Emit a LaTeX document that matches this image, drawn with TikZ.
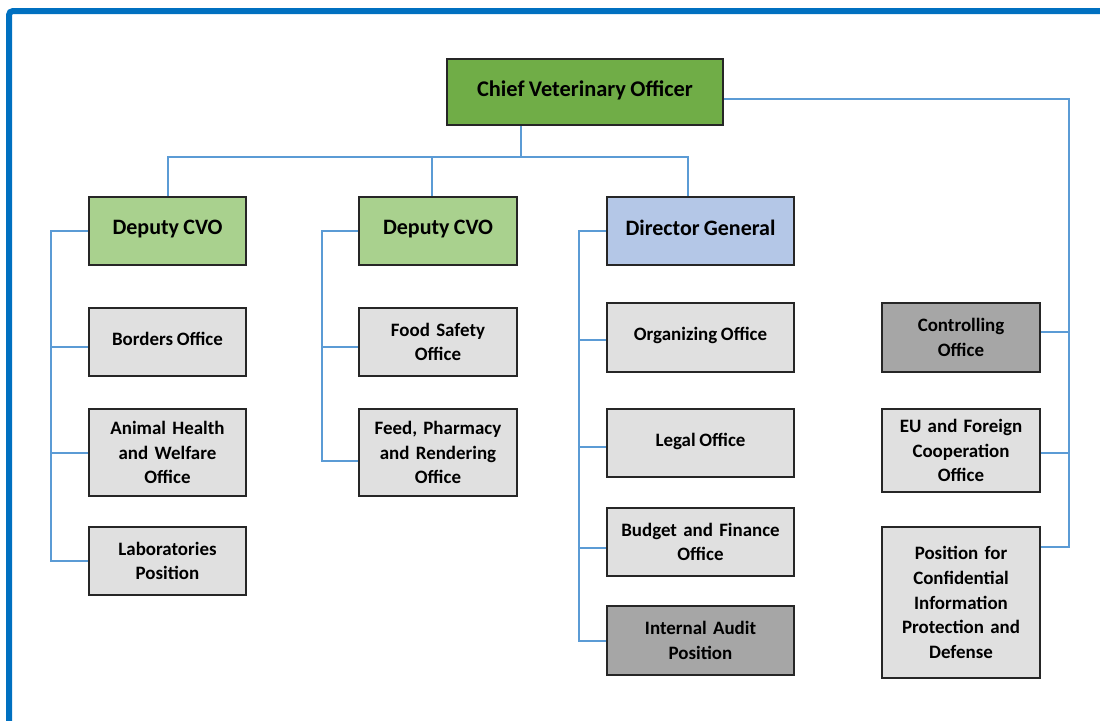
\documentclass[tikz,border=0pt]{standalone}
\usepackage{fontspec}
\setmainfont{Carlito}[WordSpace=0.85]
\usepackage{tikz}

\definecolor{frameblue}{RGB}{0,112,192}
\definecolor{linkblue}{RGB}{91,155,213}
\definecolor{chiefgreen}{RGB}{112,173,71}
\definecolor{deputygreen}{RGB}{169,209,142}
\definecolor{dirblue}{RGB}{180,199,231}
\definecolor{officegray}{RGB}{224,224,224}
\definecolor{darkgray}{RGB}{166,166,166}
\definecolor{boxline}{RGB}{38,38,38}

\tikzset{
  box/.style={draw=boxline, line width=1.5pt, align=center, inner sep=0pt,
    font=\bfseries\fontsize{14.2}{18.5}\selectfont, text=black},
  office/.style={box, fill=officegray},
  darkoffice/.style={box, fill=darkgray},
  head/.style={box, font=\bfseries\fontsize{16.5}{20}\selectfont, text depth=0.5em},
  lift/.style={text depth=0.5em},
  link/.style={draw=linkblue, line width=1.5pt},
}

\begin{document}
\begin{tikzpicture}[x=0.75pt,y=0.75pt,yscale=-1,xscale=1]
\useasboundingbox (0,0) rectangle (1100,721);

%Frame
\draw [frameblue, line width=4.5pt, rounded corners=3pt] (9,725) -- (9,11) -- (1104,11);

%Top row
\node [head, fill=chiefgreen, minimum width=207pt, minimum height=49.5pt, font=\bfseries\fontsize{16.8}{20}\selectfont] (chief) at (585,92) {Chief Veterinary Officer};
\node [head, fill=deputygreen, minimum width=117.75pt, minimum height=51pt] (dep1) at (167.5,231) {Deputy CVO};
\node [head, fill=deputygreen, minimum width=118.5pt, minimum height=51pt] (dep2) at (438,231) {Deputy CVO};
\node [head, fill=dirblue, minimum width=140.25pt, minimum height=51pt] (dg) at (700.5,231) {Director General};

%First Deputy CVO
\node [office, lift, minimum width=117.75pt, minimum height=51pt] (bord) at (167.5,342) {Borders Office};
\node [office, text width=112pt, minimum width=117.75pt, minimum height=65.25pt] (anim) at (167.5,452.5) {Animal Health\\and Welfare\\Office};
\node [office, text width=112pt, minimum width=117.75pt, minimum height=51pt] (lab) at (167.5,561) {Laboratories\\Position};

%Second Deputy CVO
\node [office, text width=112pt, minimum width=118.5pt, minimum height=51pt] (food) at (438,342) {Food Safety\\Office};
\node [office, text width=112pt, minimum width=118.5pt, minimum height=65.25pt] (feed) at (438,452.5) {Feed, Pharmacy\\and Rendering\\Office};

%Director General
\node [office, lift, minimum width=140.25pt, minimum height=51.75pt] (org) at (700.5,337.5) {Organizing Office};
\node [office, lift, minimum width=140.25pt, minimum height=51pt] (legal) at (700.5,443) {Legal Office};
\node [office, text width=134pt, minimum width=140.25pt, minimum height=51pt] (budget) at (700.5,542) {Budget and Finance\\Office};
\node [darkoffice, text width=134pt, minimum width=140.25pt, minimum height=51.75pt] (audit) at (700.5,640.5) {Internal Audit\\Position};

%Right column
\node [darkoffice, text width=112pt, minimum width=118.5pt, minimum height=51.75pt] (ctrl) at (961,337.5) {Controlling\\Office};
\node [office, text width=112pt, minimum width=118.5pt, minimum height=62.25pt] (eu) at (961,450.5) {EU and Foreign\\Cooperation\\Office};
\node [office, text width=112pt, minimum width=118.5pt, minimum height=113.25pt] (pos) at (961,602.5) {Position for\\Confidential\\Information\\Protection and\\Defense};

%Bus under the chief
\coordinate (bus) at (521,157);
\draw [link] (chief.south -| bus) -- (bus);
\draw [link] (dep1.north) |- (bus) -| ([xshift=-9.4pt]dg.north);
\draw [link] ([xshift=-4.5pt]dep2.north) -- ([xshift=-4.5pt]dep2.north |- bus);

%Right spine
\coordinate (chiefr) at ([yshift=5.25pt]chief.east);
\coordinate (posb) at ([yshift=15.75pt]pos.north east);
\coordinate (ctrlr) at ([yshift=-4pt]ctrl.east);
\coordinate (eur) at ([yshift=2pt]eu.east);
\coordinate (rsp) at ([xshift=21pt]posb);
\draw [link] (chiefr) -| (rsp) -- (posb);
\draw [link] (ctrlr) -- (ctrlr -| rsp);
\draw [link] (eur) -- (eur -| rsp);

%Left spines
\coordinate (s1) at (51,233);
\coordinate (bordl) at ([yshift=3.75pt]bord.west);
\draw [link] (dep1.west) -| (s1 |- lab.west) -- (lab.west);
\draw [link] (bordl -| s1) -- (bordl);
\draw [link] (s1 |- anim.west) -- (anim.west);

\coordinate (s2) at (322,233);
\coordinate (foodl) at ([yshift=3.75pt]food.west);
\coordinate (feedl) at ([yshift=6.4pt]feed.west);
\draw [link] (dep2.west) -| (feedl -| s2) -- (feedl);
\draw [link] (foodl -| s2) -- (foodl);

\coordinate (s3) at (579,233);
\coordinate (orgl) at ([yshift=1.9pt]org.west);
\coordinate (legall) at ([yshift=3pt]legal.west);
\coordinate (budgetl) at ([yshift=4.5pt]budget.west);
\draw [link] (dg.west) -| (s3 |- audit.west) -- (audit.west);
\draw [link] (orgl -| s3) -- (orgl);
\draw [link] (legall -| s3) -- (legall);
\draw [link] (budgetl -| s3) -- (budgetl);

\end{tikzpicture}
\end{document}
